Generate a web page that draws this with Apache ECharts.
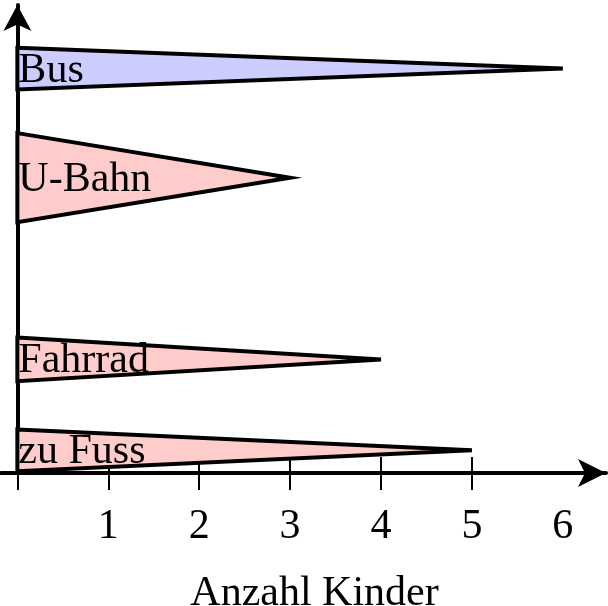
<!DOCTYPE html>
<html><head><meta charset="utf-8">
<script src="https://cdn.jsdelivr.net/npm/echarts@6/dist/echarts.min.js"></script>
<style>html,body{margin:0;padding:0;background:#fff}#c{width:608px;height:606px}</style>
</head><body><div id="c"></div>
<script>
var categories = ['zu Fuss', 'Fahrrad', 'U-Bahn', 'Bus'];
var values = [5, 4, 3, 6];
var centers = [0.25, 1.25, 3.25, 4.45];
var halfWidths = [0.23, 0.24, 0.49, 0.23];
var labelTicks = [1, 2, 3, 4, 5, 6];
var xName = 'Anzahl Kinder';

var fills = {'Bus': '#ccccff'};
var font = '"Liberation Serif", "Times New Roman", serif';

var data = categories.map(function (c, i) { return [values[i], centers[i], halfWidths[i], c]; });

var chart = echarts.init(document.getElementById('c'), null, {renderer: 'canvas'});
chart.setOption({
  animation: false,
  grid: {left: 1, right: 2, top: 5, bottom: 133, containLabel: false, outerBoundsMode: 'none'},
  xAxis: [{
    type: 'value', min: -0.18, max: 6.475, position: 'bottom',
    splitLine: {show: false},
    axisLine: {show: true, onZero: false, lineStyle: {color: '#000', width: 4}, symbol: ['none', 'arrow'], symbolSize: [21, 28]},
    axisTick: {show: true, inside: false, length: 17, lineStyle: {color: '#000', width: 2}, customValues: [0, 1, 2, 3, 4, 5]},
    axisLabel: {show: true, margin: 33, color: '#000', fontSize: 42, fontFamily: font, customValues: labelTicks},
    name: xName, nameLocation: 'middle', nameGap: 100,
    nameTextStyle: {color: '#000', fontSize: 42, fontFamily: font, padding: [0, 0, 0, 22]}
  }, {
    type: 'value', min: -0.18, max: 6.475, position: 'bottom', offset: 0,
    splitLine: {show: false},
    axisLine: {show: false},
    axisTick: {show: true, inside: true, length: 16, lineStyle: {color: '#000', width: 2}, customValues: [1, 2, 3, 4, 5]},
    axisLabel: {show: false}
  }],
  yAxis: {
    type: 'value', min: 0, max: 5.15,
    splitLine: {show: false},
    axisLine: {show: true, onZero: true, lineStyle: {color: '#000', width: 4}, symbol: ['none', 'arrow'], symbolSize: [21, 26]},
    axisTick: {show: false},
    axisLabel: {show: false}
  },
  series: [{
    type: 'custom',
    xAxisIndex: 0,
    data: data,
    z: 1,
    renderItem: function (params, api) {
      var v = api.value(0), c = api.value(1), h = api.value(2);
      var name = categories[params.dataIndex];
      var p0 = api.coord([0, c + h]);
      var p1 = api.coord([v, c]);
      var p2 = api.coord([0, c - h]);
      var pc = api.coord([0, c]);
      return {
        type: 'group',
        children: [{
          type: 'polygon',
          shape: {points: [p0, p1, p2]},
          style: {fill: fills[name] || '#ffcccc', stroke: '#000', lineWidth: 4, lineJoin: 'miter', miterLimit: 10}
        }, {
          type: 'text',
          style: {text: name, x: pc[0] + 1, y: pc[1] + 2, fill: '#000', font: '42px ' + font, verticalAlign: 'middle', align: 'left'}
        }]
      };
    }
  }]
});
</script></body></html>
